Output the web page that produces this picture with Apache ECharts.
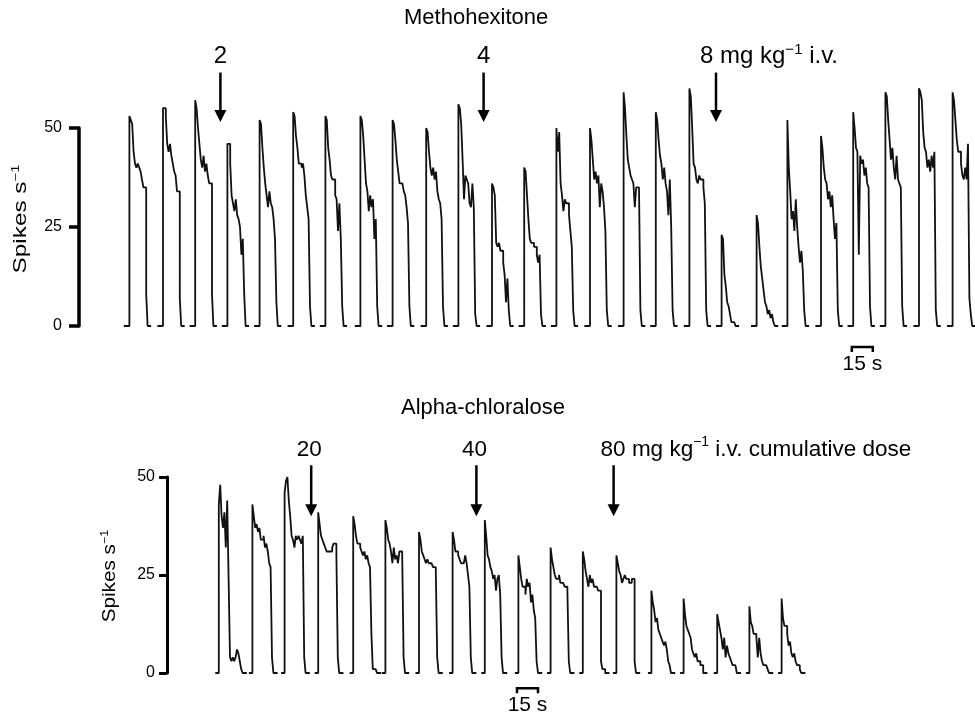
<!DOCTYPE html>
<html>
<head>
<meta charset="utf-8">
<title>Methohexitone / Alpha-chloralose</title>
<script src="https://cdn.jsdelivr.net/npm/echarts@6/dist/echarts.min.js"></script>
<style>
  html, body { margin: 0; padding: 0; background: #fff; }
  #chart { width: 975px; height: 716px; }
</style>
</head>
<body>
<div id="chart"></div>
<script>
// burst onsets (s) and spike rate per 1 s bin (spikes/s)
const topOnsets = [36, 60, 83, 106, 129, 153, 176, 201, 224, 248, 271, 295, 318, 341, 365, 389, 412, 436, 459, 484, 506, 530, 553, 576, 600, 624]
const topBursts = [
  [53, 52, 51, 44, 41, 40, 41, 40, 39, 37, 35, 35, 8],
  [55, 55, 53, 46, 44, 46, 43, 41, 39, 38, 34, 34, 7],
  [57, 55, 50, 46, 42, 40, 43, 39, 41, 38, 36, 36, 8],
  [46, 46, 41, 33, 31, 29, 32, 28, 27, 25, 18, 22, 8],
  [52, 51, 45, 40, 36, 33, 30, 34, 31, 30, 27, 22, 6],
  [54, 53, 48, 45, 41, 41, 40, 41, 38, 33, 30, 27, 5],
  [53, 52, 45, 42, 38, 37, 37, 33, 32, 24, 31, 22, 5],
  [53, 52, 48, 42, 36, 34, 29, 33, 30, 32, 22, 27, 5],
  [52, 51, 47, 42, 39, 36, 36, 36, 34, 33, 30, 26, 5],
  [50, 49, 44, 40, 38, 40, 37, 39, 34, 32, 31, 27, 5],
  [56, 55, 51, 42, 32, 38, 37, 36, 31, 30, 36, 30, 3],
  [36, 35, 33, 21, 20, 21, 19, 19, 16, 13, 6, 12, 4],
  [40, 39, 33, 27, 22, 21, 21, 20, 20, 18, 16, 18, 3],
  [50, 44, 49, 36, 33, 29, 32, 31, 31, 28, 24, 20, 4],
  [50, 47, 42, 37, 39, 36, 38, 30, 36, 34, 30, 24, 4],
  [59, 55, 48, 42, 40, 38, 37, 36, 30, 35, 35, 35, 4],
  [54, 52, 47, 43, 41, 37, 40, 36, 34, 28, 37, 25, 4],
  [60, 58, 50, 41, 40, 37, 36, 38, 37, 37, 35, 31, 4],
  [23, 22, 13, 10, 6, 5, 3, 1, 1, 1],
  [28, 26, 20, 15, 12, 9, 6, 5, 3, 4, 2, 3, 1],
  [52, 40, 34, 27, 29, 24, 32, 25, 20, 16, 19, 14, 4],
  [48, 45, 40, 37, 36, 32, 34, 30, 33, 27, 22, 26, 4],
  [54, 50, 45, 44, 18, 43, 41, 42, 38, 40, 36, 35, 5],
  [59, 58, 52, 47, 42, 45, 40, 37, 43, 37, 36, 35, 5],
  [60, 59, 57, 49, 45, 44, 40, 42, 39, 43, 40, 44, 4],
  [59, 57, 52, 47, 44, 44, 41, 38, 37, 40, 37, 46, 7, 3]
]
const bottomOnsets = [37, 61, 84, 108, 133, 156, 180, 204, 227, 251, 274, 297, 321, 346, 369, 393, 416, 439]
const bottomBursts = [
  [43, 48, 40, 37, 41, 32, 44, 24, 4, 3, 4, 3, 4, 6, 5, 3, 1],
  [43, 40, 37, 38, 36, 37, 34, 34, 35, 32, 33, 31, 28, 27, 4],
  [46, 49, 50, 44, 40, 35, 34, 32, 35, 34, 35, 34, 33, 35, 4],
  [41, 38, 35, 34, 33, 32, 31, 31, 31, 31, 32, 33, 33, 30, 4],
  [40, 38, 35, 33, 33, 32, 31, 30, 31, 29, 30, 28, 27, 10, 1, 1, 1],
  [39, 37, 34, 33, 31, 28, 32, 29, 30, 28, 31, 31, 30, 4],
  [36, 34, 31, 30, 29, 28, 29, 28, 28, 28, 27, 27, 26, 4],
  [36, 34, 31, 31, 30, 29, 28, 28, 28, 30, 28, 25, 22, 4],
  [39, 35, 30, 29, 27, 26, 24, 25, 21, 24, 25, 20, 4],
  [30, 27, 24, 22, 22, 20, 24, 22, 23, 18, 20, 16, 14, 3],
  [32, 29, 27, 25, 24, 24, 25, 23, 23, 23, 22, 22, 21, 3],
  [31, 29, 26, 24, 22, 25, 23, 24, 22, 22, 22, 21, 21, 3, 1, 1],
  [30, 28, 26, 25, 23, 24, 25, 24, 24, 23, 23, 24, 24, 3],
  [21, 18, 16, 13, 14, 11, 10, 9, 8, 7, 8, 6, 3, 2],
  [19, 15, 12, 11, 10, 9, 6, 5, 4, 5, 3, 3, 2, 2],
  [15, 13, 11, 9, 6, 9, 4, 7, 5, 4, 3, 2, 2, 2],
  [17, 13, 12, 10, 10, 9, 4, 9, 5, 3, 2, 2, 2, 1],
  [19, 14, 12, 12, 10, 7, 8, 5, 4, 5, 3, 2, 2, 1]
]
const yTicks = [0, 25, 50]
// injection times (s) and labels
const topDoses = [101, 289, 455]
const topDoseLabels = ['2', '4', '8 mg kg{sup|−1} i.v.']
const bottomDoses = [103, 221, 319]
const bottomDoseLabels = ['20', '40', '80 mg kg{sup|−1} i.v. cumulative dose']
const scaleBar = 15 // s

const FONT = 'Liberation Sans, Arial, Helvetica, sans-serif'

// one polyline per panel, broken between bursts
function trace (onsets, bursts, pre, post) {
  let pts = []
  onsets.forEach((t0, i) => {
    let vals = bursts[i]
    pts.push([t0 - pre, 0])
    vals.forEach((v, k) => pts.push([t0 + k, v]))
    pts.push([t0 + vals.length, 0])
    pts.push([t0 + vals.length + post, 0])
    pts.push([t0 + vals.length + post, '-'])
  })
  return pts
}

function yAxisOpt (grid, tickLen, margin, lw) {
  return {
    type: 'value',
    gridIndex: grid,
    min: yTicks[0],
    max: yTicks[yTicks.length - 1],
    interval: 25,
    axisLine: { show: true, lineStyle: { color: '#000', width: lw } },
    axisTick: { show: true, length: tickLen, lineStyle: { color: '#000', width: lw } },
    splitLine: { show: false },
    axisLabel: { color: '#000', fontSize: 16, fontFamily: FONT, margin: margin }
  }
}

var chart = echarts.init(document.getElementById('chart'))
chart.setOption({
  animation: false,
  backgroundColor: '#fff',
  grid: [
    { left: 79, top: 128, width: 896, height: 198 },
    { left: 167, top: 477, width: 700, height: 196 }
  ],
  xAxis: [
    { type: 'value', gridIndex: 0, min: 0, max: 640, show: false },
    { type: 'value', gridIndex: 1, min: 0, max: 500, show: false }
  ],
  yAxis: [yAxisOpt(0, 10, 17, 3.5), yAxisOpt(1, 8, 12, 3)],
  series: [
    {
      type: 'line', xAxisIndex: 0, yAxisIndex: 0, step: 'end', symbol: 'none', clip: false,
      connectNulls: false, lineStyle: { color: '#111', width: 1.8 },
      data: trace(topOnsets, topBursts, 4, 2.5)
    },
    {
      type: 'line', xAxisIndex: 1, yAxisIndex: 1, step: 'end', symbol: 'none', clip: false,
      connectNulls: false, lineStyle: { color: '#111', width: 1.8 },
      data: trace(bottomOnsets, bottomBursts, 2.5, 3)
    }
  ]
})

// annotations placed through the axes
const px = (g, t, v) => chart.convertToPixel({ gridIndex: g }, [t, v])

function txt (x, y, text, size, align, extra) {
  return Object.assign({
    type: 'text', x: x, y: y,
    style: {
      text: text, fontSize: size, fontFamily: FONT, fill: '#000',
      align: align || 'center', verticalAlign: 'middle',
      rich: { sup: { fontSize: Math.round(size * 0.62), fontFamily: FONT, padding: [0, 0, Math.round(size * 0.6), 0] } }
    }
  }, extra || {})
}

function arrow (g, t, vTop, vTip) {
  let a = px(g, t, vTop)
  let b = px(g, t, vTip)
  return [
    { type: 'line', shape: { x1: a[0], y1: a[1], x2: b[0], y2: b[1] - 8 }, style: { stroke: '#000', lineWidth: 2.5 } },
    { type: 'polygon', shape: { points: [[b[0] - 6, b[1] - 12], [b[0] + 6, b[1] - 12], [b[0], b[1]]] }, style: { fill: '#000' } }
  ]
}

function bracket (g, t0, v) {
  let a = px(g, t0, v)
  let b = px(g, t0 + scaleBar, v)
  return [
    { type: 'polyline', shape: { points: [[a[0], a[1] + 5], [a[0], a[1]], [b[0], b[1]], [b[0], b[1] + 5]] }, style: { stroke: '#000', lineWidth: 2.5, fill: null } },
    txt((a[0] + b[0]) / 2, a[1] + 17, scaleBar + ' s', 21)
  ]
}

let els = []
els.push(txt(404, 18, 'Methohexitone', 22, 'left'))
els.push(txt(401, 408, 'Alpha-chloralose', 22, 'left'))

topDoses.forEach((t, i) => {
  els = els.concat(arrow(0, t, 64, 51.5))
  let p = px(0, t, 68)
  if (i < 2) els.push(txt(p[0], p[1], topDoseLabels[i], 24))
  else els.push(txt(p[0] - 16, p[1], topDoseLabels[i], 24, 'left'))
})
bottomDoses.forEach((t, i) => {
  els = els.concat(arrow(1, t, 53, 40))
  let p = px(1, t, 57)
  if (i < 2) els.push(txt(p[0] - 2, p[1], bottomDoseLabels[i], 22.5))
  else els.push(txt(p[0] - 13, p[1], bottomDoseLabels[i], 22.5, 'left'))
})

els = els.concat(bracket(0, 552, -5.3))
els = els.concat(bracket(1, 250, -3.9))

// rotated axis titles
els.push(txt(21, 219, 'Spikes s{sup|−1}', 18, 'center', { rotation: Math.PI / 2, scaleX: 1.35 }))
els.push(txt(110, 576, 'Spikes s{sup|−1}', 18, 'center', { rotation: Math.PI / 2, scaleX: 1.15 }))

chart.setOption({ graphic: { elements: els } })
</script>
</body>
</html>
